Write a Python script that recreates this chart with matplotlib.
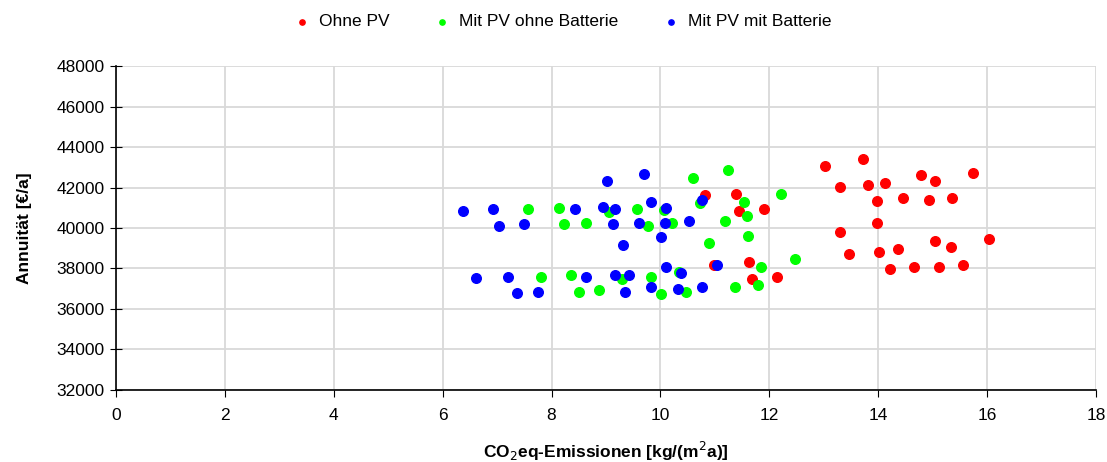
import matplotlib.pyplot as plt

plt.rcParams['font.family'] = ['Liberation Sans', 'DejaVu Sans']

# Ohne PV
red_x = [10.81, 11.39, 11.45, 11.90, 11.63, 10.99, 11.69, 12.15, 13.03, 13.72, 13.30, 13.81,
         14.13, 14.78, 15.05, 15.75, 13.97, 14.45, 14.93, 15.36, 13.97, 13.30, 13.47, 14.02,
         14.36, 15.05, 15.33, 16.03, 14.21, 14.66, 15.12, 15.56]
red_y = [41610, 41680, 40860, 40920, 38320, 38160, 37500, 37600, 43060, 43420, 42040, 42140,
         42240, 42600, 42340, 42700, 41320, 41480, 41380, 41480, 40230, 39800, 38710, 38810,
         38980, 39370, 39080, 39470, 37990, 38090, 38090, 38160]

# Mit PV ohne Batterie
green_x = [7.57, 8.13, 8.23, 8.64, 9.06, 9.57, 7.81, 8.36, 8.51, 8.87, 9.30, 10.59, 11.24,
           10.72, 11.53, 11.59, 12.21, 11.18, 10.06, 9.78, 10.22, 10.90, 11.60, 12.48, 11.84,
           11.80, 11.37, 10.34, 9.82, 10.01, 10.47]
green_y = [40920, 41000, 40210, 40260, 40790, 40920, 37600, 37680, 36840, 36940, 37470, 42470,
           42860, 41250, 41300, 40590, 41680, 40360, 40890, 40100, 40230, 39280, 39600, 38450,
           38090, 37170, 37070, 37830, 37600, 36740, 36840]

# Mit PV mit Batterie
blue_x = [6.38, 6.93, 7.04, 7.50, 8.43, 8.95, 9.16, 9.02, 9.12, 9.31, 6.62, 7.20, 7.37, 7.76,
          8.64, 9.16, 9.43, 9.35, 9.69, 10.77, 9.83, 10.11, 9.60, 10.08, 10.53, 10.01, 11.04,
          10.11, 10.38, 9.82, 10.33, 10.77]
blue_y = [40850, 40940, 40100, 40200, 40940, 41020, 40920, 42340, 40210, 39160, 37520, 37600,
          36780, 36840, 37600, 37680, 37680, 36840, 42670, 41380, 41300, 40990, 40260, 40260,
          40360, 39540, 38160, 38090, 37800, 37070, 36970, 37070]

fig = plt.figure(figsize=(11.07, 4.62), dpi=100)
ax = fig.add_axes([0.1048, 0.156, 0.8852, 0.701])

ax.scatter(red_x, red_y, s=48, color='#ff0000', label='Ohne PV', zorder=3)
ax.scatter(green_x, green_y, s=48, color='#00ff00', label='Mit PV ohne Batterie', zorder=3)
ax.scatter(blue_x, blue_y, s=48, color='#0000ff', label='Mit PV mit Batterie', zorder=3)

ax.set_xlim(0, 18)
ax.set_ylim(32000, 48000)
ax.set_xticks(range(0, 19, 2))
ax.set_yticks(range(32000, 48001, 2000))
ax.grid(True, color='#d9d9d9', linewidth=1.3, zorder=0)
ax.set_axisbelow(True)

for s in ['top', 'right']:
    ax.spines[s].set_visible(False)
for s in ['left', 'bottom']:
    ax.spines[s].set_color('black')
    ax.spines[s].set_linewidth(1.2)

ax.tick_params(axis='x', direction='out', length=5, labelsize=12.5, pad=8)
ax.tick_params(axis='y', direction='inout', length=8, labelsize=12.5, pad=4)

ax.set_xlabel('CO$_2$eq-Emissionen [kg/(m$^2$a)]', fontsize=12.5, fontweight='bold', labelpad=12)
ax.set_ylabel('Annuität [€/a]', fontsize=12.5, fontweight='bold', labelpad=18)

ax.legend(loc='lower center', bbox_to_anchor=(0.451, 1.065), ncol=3, frameon=False,
          fontsize=12.5, markerscale=0.55, handletextpad=0.0, columnspacing=2.0)

fig.savefig('out.png', dpi=100)
